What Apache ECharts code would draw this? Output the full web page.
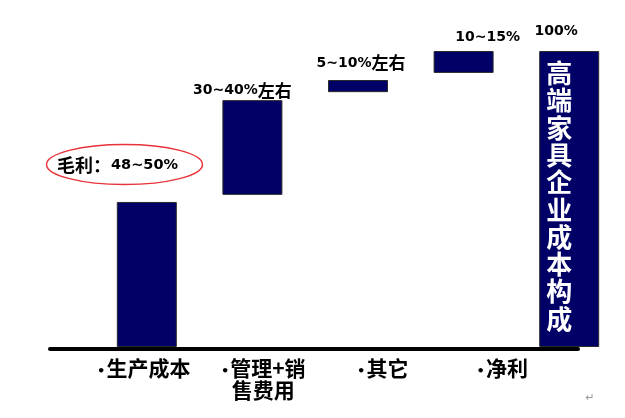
<!DOCTYPE html>
<html>
<head>
<meta charset="utf-8">
<script src="https://cdn.jsdelivr.net/npm/echarts@6/dist/echarts.min.js"></script>
<style>html,body{margin:0;padding:0;background:#fff;}#c{width:625px;height:418px;}</style>
</head>
<body>
<div id="c"></div>
<script>
// ---- data ----
const categories = ['生产成本', '管理+销售费用', '其它', '净利', '高端家具企业成本构成'];
const rangeLow  = [0, 51.4, 86.1, 92.6, 0];
const rangeHigh = [49, 83.4, 90.2, 100, 100];
const barLabels = ['', '30~40%左右', '5~10%左右', '10~15%', '100%'];
const axisLabels = ['生产成本', '管理+销\n售费用', '其它', '净利'];
const noteCJK = '毛利：';
const noteNum = '48~50%';

// ---- styles ----
const NAVY = '#000066';
const latin = 'DejaVu Sans';
const cjk = 'Noto Sans CJK SC';
const richLbl = {
  n: {fontFamily: latin, fontWeight: 'bold', fontSize: 14, color: '#000', lineHeight: 18},
  c: {fontFamily: cjk, fontWeight: 'bold', fontSize: 17, color: '#000', lineHeight: 18}
};
function richText(s) {
  let out = '', cur = '', type = null;
  for (const ch of s) {
    const t = /[\u0000-\u024f]/.test(ch) ? 'n' : 'c';
    if (t !== type && cur) { out += '{' + type + '|' + cur + '}'; cur = ''; }
    type = t; cur += ch;
  }
  if (cur) out += '{' + type + '|' + cur + '}';
  return out;
}
const labelOffsets = [[0, 0], [-10, 0], [3, 0], [24, 0], [-13, 0]];
const labelDist = [0, 1, 8, 5, 10];
const last = categories.length - 1;

const spans = rangeHigh.map((h, i) => +(h - rangeLow[i]).toFixed(2));

const valueData = spans.map((v, i) => {
  const item = {value: v};
  if (i === last) {
    item.label = {
      show: true, position: 'inside', offset: [-10, -3],
      formatter: () => Array.from(categories[i]).join('\n'),
      color: '#fff', fontFamily: cjk, fontWeight: 'bold', fontSize: 26, lineHeight: 27.3
    };
  } else if (barLabels[i]) {
    item.label = {
      show: true, position: 'top', distance: labelDist[i], offset: labelOffsets[i],
      color: '#000', formatter: () => richText(barLabels[i]), rich: richLbl
    };
  }
  return item;
});

// zero-height cap on top of the total bar that carries its "100%" label
const capData = rangeHigh.map((h, i) => i === last ? {
  value: 0,
  label: {show: true, position: 'top', distance: labelDist[i], offset: labelOffsets[i],
    color: '#000', formatter: () => richText(barLabels[i]), rich: richLbl}
} : null);

const chart = echarts.init(document.getElementById('c'), null, {renderer: 'canvas'});
const option = {
  animation: false,
  backgroundColor: '#fff',
  grid: [
    {left: 94, width: 528, top: 51, bottom: 71},
    {left: 50, right: 47, top: 51, bottom: 69},
    {left: 84, width: 478, top: 51, bottom: 71}
  ],
  xAxis: [
    {gridIndex: 0, type: 'category', data: categories,
      axisLine: {show: false}, axisTick: {show: false}, axisLabel: {show: false}},
    {gridIndex: 1, type: 'value', min: 0, max: 1,
      axisLine: {show: true, onZero: false, lineStyle: {color: '#000', width: 4, cap: 'round'}},
      axisTick: {show: false}, axisLabel: {show: false}, splitLine: {show: false}},
    {gridIndex: 2, type: 'category', data: axisLabels,
      axisLine: {show: false}, axisTick: {show: false},
      axisLabel: {margin: 10, interval: 0, color: '#000',
        formatter: (v) => '{d|•}{t|' + v.split('\n').join('}\n{t|') + '}',
        rich: {
          d: {fontFamily: latin, fontWeight: 'bold', fontSize: 13, color: '#000', verticalAlign: 'middle', padding: [8, 1, 0, 0]},
          t: {fontFamily: cjk, fontWeight: 'bold', fontSize: 21, color: '#000', lineHeight: 22, verticalAlign: 'middle'}
        }}}
  ],
  yAxis: [
    {gridIndex: 0, type: 'value', min: 0, max: 100, show: false},
    {gridIndex: 1, type: 'value', min: 0, max: 1, show: false},
    {gridIndex: 2, type: 'value', min: 0, max: 1, show: false}
  ],
  series: [
    {type: 'bar', xAxisIndex: 0, yAxisIndex: 0, stack: 'w', barWidth: 60,
      itemStyle: {color: 'transparent', borderColor: 'transparent'}, silent: true,
      data: rangeLow},
    {type: 'bar', xAxisIndex: 0, yAxisIndex: 0, stack: 'w', barWidth: 60,
      itemStyle: {color: NAVY, borderColor: '#2a2a2a', borderWidth: 1},
      data: valueData},
    {type: 'bar', xAxisIndex: 0, yAxisIndex: 0, stack: 'w', barWidth: 60,
      itemStyle: {color: 'transparent', borderColor: 'transparent'}, silent: true,
      data: capData}
  ],
  graphic: [
    {type: 'ellipse', shape: {cx: 124.5, cy: 164.5, rx: 78, ry: 20},
      style: {fill: 'none', stroke: '#e8333a', lineWidth: 1.5}, z: 10},
    {type: 'text', x: 57, y: 165, z: 11,
      style: {text: '{c|' + noteCJK + '}{n|' + noteNum + '}', verticalAlign: 'middle', align: 'left',
        rich: {c: {fontFamily: cjk, fontWeight: 'bold', fontSize: 18, color: '#000'},
               n: {fontFamily: latin, fontWeight: 'bold', fontSize: 14.5, color: '#000'}}}},
    {type: 'text', x: 590, y: 398, z: 11,
      style: {text: '↵', fontSize: 11, fill: '#999', verticalAlign: 'middle', align: 'center', fontFamily: latin}}
  ]
};
chart.setOption(option);
</script>
</body>
</html>
